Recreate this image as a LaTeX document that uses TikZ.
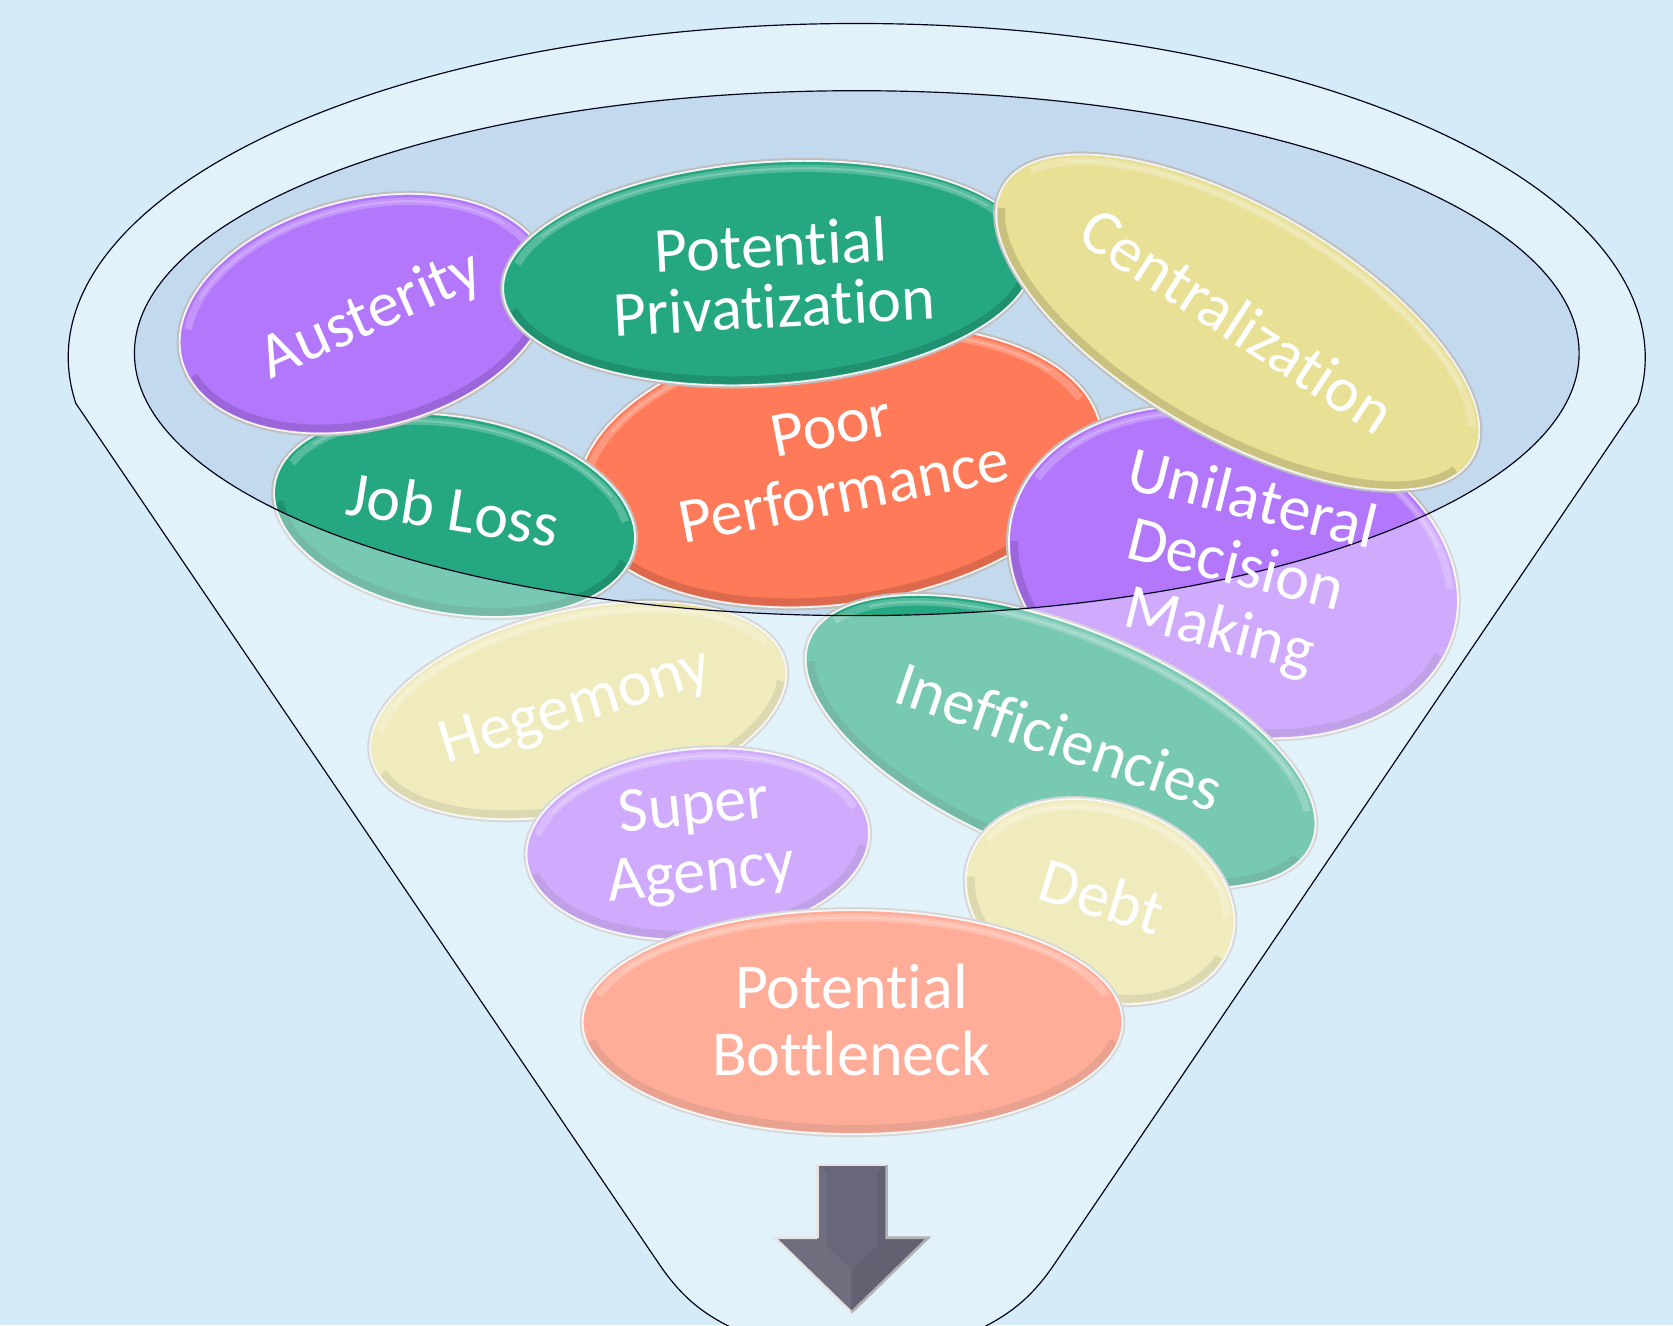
\documentclass[tikz,border=0pt]{standalone}
\usepackage{fontspec}
\setmainfont[Ligatures={NoCommon}]{Carlito}
\definecolor{bgc}{RGB}{213,236,248}
\definecolor{func}{RGB}{207,235,249}
\definecolor{innc}{RGB}{195,217,237}
\definecolor{purp}{RGB}{179,119,252}
\definecolor{grn}{RGB}{37,168,130}
\definecolor{yel}{RGB}{232,224,149}
\definecolor{orng}{RGB}{255,122,89}
\definecolor{arrc}{RGB}{103,103,121}
\newcommand\bubl[6]{%
 \begin{scope}[shift={(#1,#2)},rotate=#5]
  \fill[#6] (0,0) ellipse[x radius=#3,y radius=#4];
  \draw[white,line width=7,opacity=.22] (195:{#3-8} and {#4-8}) arc[start angle=195,end angle=345,x radius={#3-8},y radius={#4-8}];
  \draw[#6!55!white,line width=2,opacity=.7] (210:{#3-8} and {#4-8}) arc[start angle=210,end angle=330,x radius={#3-8},y radius={#4-8}];
  \draw[#6!55!black,line width=7,opacity=.3] (10:{#3-6} and {#4-6}) arc[start angle=10,end angle=170,x radius={#3-6},y radius={#4-6}];
  \draw[black!25,line width=3.5] (0,0) ellipse[x radius=#3,y radius=#4];
  \draw[white,line width=1.6,opacity=.85] (0,0) ellipse[x radius={#3-1},y radius={#4-1}];
 \end{scope}}
\newcommand\funpath{({803+739*cos(172.1)},{335+313*sin(172.1)}) arc[start angle=172.1,end angle=367.9,x radius=739,y radius=313] -- (986,1188) .. controls (962,1222) and (940,1236) .. (905,1252) -- (702,1252) .. controls (666,1236) and (644,1222) .. (620,1188) -- cycle}
\tikzset{
 txt/.style={text=white,font=\fontsize{60}{63}\selectfont,align=center,inner sep=0pt},
 outl/.style={draw=black!90!blue,line width=1.1pt}
}
\begin{document}
\begin{tikzpicture}[x=1pt,y=-1pt]
\useasboundingbox (0,0) rectangle (1568,1242);
\clip (0,0) rectangle (1568,1242);
\fill[bgc] (0,0) rectangle (1568,1242);
\fill[func] \funpath;
\fill[innc] (803,331) ellipse[x radius=677,y radius=246];
% bubbles (back to front)
\bubl{787}{437}{248}{130}{8}{orng}
\bubl{426}{483}{172}{93}{-10}{grn}
\bubl{342}{294}{178}{108}{14}{purp}
\bubl{720}{256}{250}{105}{4}{grn}
\bubl{1156}{536}{215}{152}{-15}{purp}
\bubl{1160}{302}{255}{108}{-30}{yel}
\bubl{542}{666}{200}{95}{13}{yel}
\bubl{654}{791}{162}{90}{5}{purp}
\bubl{994}{695}{255}{108}{-22}{grn}
\bubl{1031}{845}{130}{93}{-18}{yel}
\bubl{799}{958}{254}{106}{0}{orng}
% front face of the funnel
\fill[white,opacity=.38,even odd rule] \funpath (803,331) ellipse[x radius=677,y radius=246];
\draw[outl] \funpath;
\draw[outl] (803,331) ellipse[x radius=677,y radius=246];
% arrow
\fill[arrc] (766,1092) -- (831,1092) -- (831,1160) -- (870,1160) -- (798,1230) -- (726,1160) -- (766,1160) -- cycle;
\fill[white,opacity=.05] (766,1092) -- (775,1100) -- (775,1168) -- (798,1190) -- (798,1230) -- (726,1160) -- (766,1160) -- cycle;
\fill[black,opacity=.05] (831,1092) -- (822,1100) -- (822,1168) -- (798,1190) -- (798,1230) -- (870,1160) -- (831,1160) -- cycle;
\draw[white!80!gray,line width=2.5,line join=miter] (766,1160) -- (766,1092) -- (831,1092);
\draw[white!80!gray,line width=2.5,line join=miter] (766,1160) -- (726,1160) -- (798,1230);
\draw[black!30,line width=2.5,line join=miter] (831,1092) -- (831,1160) -- (870,1160) -- (798,1230);
% labels
\node[txt,rotate=24] (aus) at (348,296) {Austerity};
\node[txt,rotate=3,font=\fontsize{60}{57}\selectfont] (pp) at (724,258) {Potential\\Privatization};
\node[txt,rotate=-33] (cen) at (1160,300) {Centralization};
\node[txt,rotate=11] (poor) at (785,430) {Poor\\Performance};
\node[txt,rotate=-9] (job) at (425,477) {Job Loss};
\node[txt,rotate=-14] (uni) at (1158,532) {Unilateral\\Decision\\Making};
\node[txt,rotate=17] (heg) at (540,664) {Hegemony};
\node[txt,rotate=-19] (ine) at (993,690) {Inefficiencies};
\node[txt,rotate=6] (sup) at (654,790) {Super\\Agency};
\node[txt,rotate=-17] (debt) at (1033,840) {Debt};
\node[txt] (bot) at (798,956) {Potential\\Bottleneck};
\end{tikzpicture}
\end{document}
